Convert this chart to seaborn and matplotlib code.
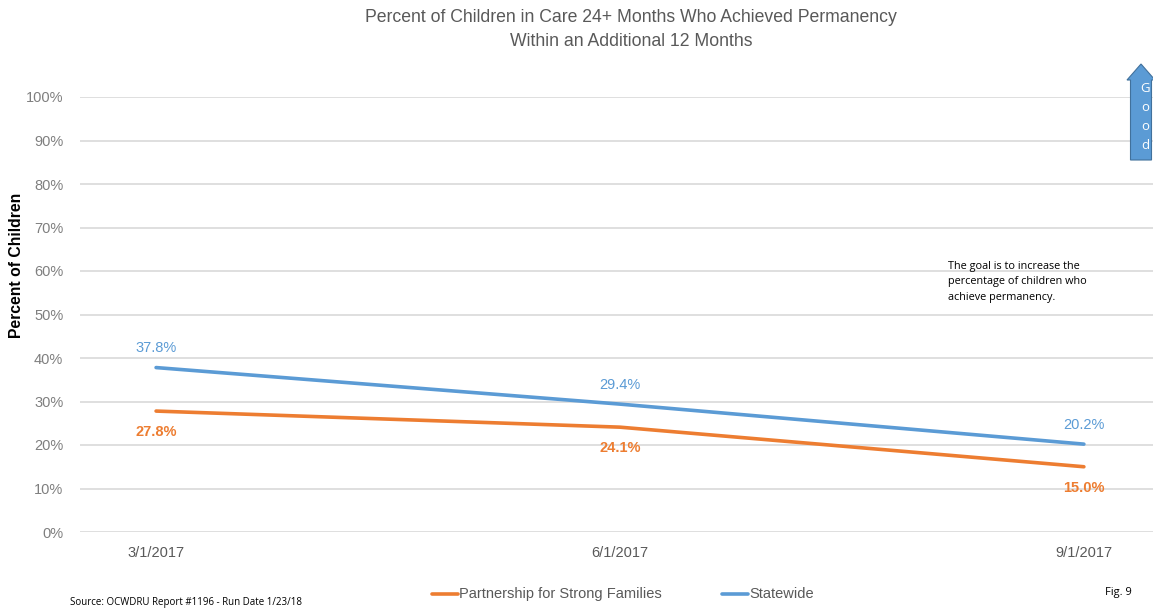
import matplotlib
matplotlib.use("Agg")
import matplotlib.pyplot as plt
import seaborn as sns
import pandas as pd
from matplotlib.patches import FancyArrow

# Data
dates = ["3/1/2017", "6/1/2017", "9/1/2017"]
partnership = [27.8, 24.1, 15.0]
statewide = [37.8, 29.4, 20.2]
series_names = ["Partnership for Strong Families", "Statewide"]
y_ticks = [0, 10, 20, 30, 40, 50, 60, 70, 80, 90, 100]

ORANGE = "#ED7D31"
BLUE = "#5B9BD5"

df = pd.DataFrame({
    "pos": list(range(len(dates))) * 2,
    "value": [v / 100 for v in partnership + statewide],
    "series": [series_names[0]] * len(dates) + [series_names[1]] * len(dates),
})

sns.set_theme(style="white")
plt.rcParams["font.family"] = ["Liberation Sans", "DejaVu Sans"]

W, H = 1153, 608
fig = plt.figure(figsize=(W / 100, H / 100), dpi=100)
ax = fig.add_axes([80 / W, 1 - 532 / H, 1 - 80 / W, 435 / H])

sns.lineplot(data=df, x="pos", y="value", hue="series",
             palette={series_names[0]: ORANGE, series_names[1]: BLUE},
             linewidth=2.6, ax=ax, legend=False, clip_on=False)

ax.set_xlim(-0.164, 2.149)
ax.set_ylim(0, 1)
ax.set_yticks([t / 100 for t in y_ticks])
ax.set_yticklabels([f"{t}%" for t in y_ticks], color="#7f7f7f", fontsize=10.5)
ax.set_xticks(range(len(dates)))
ax.set_xticklabels(dates, color="#595959", fontsize=10.5)
ax.tick_params(axis="y", pad=12, length=0)
ax.tick_params(axis="x", pad=10, length=0)
ax.grid(axis="y", color="#d9d9d9", linewidth=1.2)
ax.grid(axis="x", visible=False)
for s in ax.spines.values():
    s.set_visible(False)
ax.set_xlabel("")
ax.set_ylabel("")

# Y axis title
fig.text(17 / W, 1 - 265 / H, "Percent of Children", rotation=90,
         ha="center", va="center", fontsize=11.3, fontweight="bold", color="black")

# Data labels
for i, v in enumerate(statewide):
    ax.annotate(f"{v:.1f}%", (i, v / 100), xytext=(0, 14), textcoords="offset points",
                ha="center", va="center", color=BLUE, fontsize=10.5)
for i, v in enumerate(partnership):
    ax.annotate(f"{v:.1f}%", (i, v / 100), xytext=(0, -15), textcoords="offset points",
                ha="center", va="center", color=ORANGE, fontsize=10.5,
                fontweight="bold")

# Title
fig.text(631 / W, 1 - 17 / H, "Percent of Children in Care 24+ Months Who Achieved Permanency",
         ha="center", va="center", fontsize=12.7, color="#595959")
fig.text(631 / W, 1 - 41 / H, "Within an Additional 12 Months",
         ha="center", va="center", fontsize=12.7, color="#595959")

# Goal note
fig.text(948 / W, 1 - 261 / H,
         "The goal is to increase the\npercentage of children who\nachieve permanency.",
         ha="left", va="top", fontsize=7.8, color="black", family="Open Sans",
         linespacing=1.55)

# "Good" direction arrow
arrow = FancyArrow(1141 / W, 1 - 160 / H, 0, 96 / H, width=21 / W,
                   head_width=28 / W, head_length=16 / H,
                   length_includes_head=True, transform=fig.transFigure,
                   facecolor=BLUE, edgecolor="#41719C", linewidth=0.8)
fig.add_artist(arrow)
for k, ch in enumerate("Good"):
    fig.text(1145 / W, 1 - (89 + 19 * k) / H, ch, ha="center", va="center",
             color="white", fontsize=9.5, family="Open Sans")

# Legend
fig.add_artist(plt.Line2D([432 / W, 458 / W], [1 - 594 / H] * 2, color=ORANGE,
                          linewidth=2.6, transform=fig.transFigure))
fig.text(459 / W, 1 - 594 / H, series_names[0], ha="left", va="center",
         fontsize=10.5, color="#595959")
fig.add_artist(plt.Line2D([722 / W, 748 / W], [1 - 594 / H] * 2, color=BLUE,
                          linewidth=2.6, transform=fig.transFigure))
fig.text(749 / W, 1 - 594 / H, series_names[1], ha="left", va="center",
         fontsize=10.5, color="#595959")

# Footer
fig.text(70 / W, 1 - 603 / H, "Source: OCWDRU Report #1196 - Run Date 1/23/18",
         ha="left", va="center", fontsize=7, color="black", family="Open Sans")
fig.text(1118 / W, 1 - 593 / H, "Fig. 9", ha="center", va="center",
         fontsize=8, color="black", family="Open Sans")

fig.savefig("out.png", dpi=100)
